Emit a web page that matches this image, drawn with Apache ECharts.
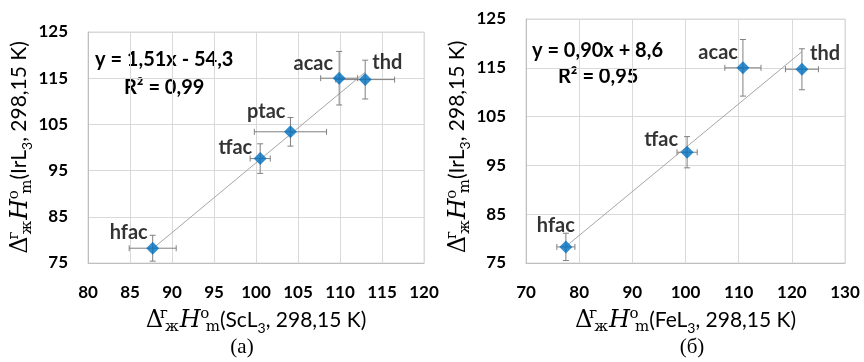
<!DOCTYPE html>
<html>
<head>
<meta charset="utf-8">
<script src="https://cdn.jsdelivr.net/npm/echarts@6/dist/echarts.min.js"></script>
<style>
  html, body { margin: 0; padding: 0; background: #fff; }
  #main { width: 864px; height: 362px; }
</style>
</head>
<body>
<div id="main"></div>
<script>
// (а) ScL3 -> IrL3
var scNames = ['hfac', 'tfac', 'ptac', 'acac', 'thd'];
var scX = [87.7, 100.5, 104.1, 109.9, 113.0];
var scY = [78.2, 97.6, 103.4, 115.0, 114.7];
var scXErr = [2.8, 1.2, 4.3, 2.2, 3.5];
var scYErr = [2.8, 3.2, 3.1, 5.8, 4.2];
var scTrend = [[87.7, 78.1], [113.0, 116.3]];
var scXTicks = [80, 120, 5];

// (б) FeL3 -> IrL3
var feNames = ['hfac', 'tfac', 'acac', 'thd'];
var feX = [77.5, 100.3, 110.8, 121.9];
var feY = [78.3, 97.7, 115.0, 114.7];
var feXErr = [1.7, 1.9, 3.4, 3.1];
var feYErr = [2.8, 3.2, 5.8, 4.2];
var feTrend = [[77.5, 78.4], [121.9, 118.3]];
var feXTicks = [70, 130, 10];

var yTicks = [75, 125, 10];

// где ставить подписи точек
var scLabelPos = {
    hfac: ['right', [-5, -16]],
    tfac: ['right', [-8, -11]],
    ptac: ['right', [-5, -20]],
    acac: ['right', [-6, -15]],
    thd:  ['left',  [7, -17]]
};
var feLabelPos = {
    hfac: ['right', [9, -21]],
    tfac: ['right', [-9, -13]],
    acac: ['right', [-5, -15]],
    thd:  ['left',  [8, -16]]
};

var myChart = echarts.init(document.getElementById('main'));

var serif = 'DejaVu Serif';
var sans = 'Lato';
var nameRich = {
    d:   { fontFamily: serif, fontSize: 24, lineHeight: 28, color: '#000' },
    h:   { fontFamily: serif, fontSize: 24, lineHeight: 28, fontStyle: 'italic', color: '#000', padding: [0, 0, 0, 1] },
    sp1: { fontFamily: serif, fontSize: 15, lineHeight: 14, verticalAlign: 'top', width: 0, color: '#000', padding: [0, 0, 0, 1] },
    sb1: { fontFamily: serif, fontSize: 15, lineHeight: 14, verticalAlign: 'bottom', color: '#000', padding: [0, 0, 0, 1] },
    sp2: { fontFamily: serif, fontSize: 15, lineHeight: 14, verticalAlign: 'top', width: 0, color: '#000', padding: [0, 0, 0, 4] },
    sb2: { fontFamily: serif, fontSize: 15, lineHeight: 14, verticalAlign: 'bottom', color: '#000', padding: [0, 0, 0, 1] },
    n:   { fontFamily: sans, fontSize: 21, lineHeight: 28, color: '#000', padding: [0, 0, 2, 0] },
    s3:  { fontFamily: sans, fontSize: 14, lineHeight: 14, verticalAlign: 'bottom', color: '#000' }
};
function axisName(compound) {
    return '{d|Δ}{sp1|г}{sb1|ж}{h|H}{sp2|o}{sb2|m}{n|(' + compound + '}{s3|3}{n|, 298,15 K)}';
}

function errRender(params, api) {
    var x = api.value(0), y = api.value(1), dx = api.value(2), dy = api.value(3);
    var l = api.coord([x - dx, y]), r = api.coord([x + dx, y]);
    var t = api.coord([x, y + dy]), b = api.coord([x, y - dy]);
    var cap = 3;
    var st = { stroke: '#808080', lineWidth: 1 };
    return {
        type: 'group',
        children: [
            { type: 'line', shape: { x1: l[0], y1: l[1], x2: r[0], y2: r[1] }, style: st },
            { type: 'line', shape: { x1: l[0], y1: l[1] - cap, x2: l[0], y2: l[1] + cap }, style: st },
            { type: 'line', shape: { x1: r[0], y1: r[1] - cap, x2: r[0], y2: r[1] + cap }, style: st },
            { type: 'line', shape: { x1: t[0], y1: t[1], x2: b[0], y2: b[1] }, style: st },
            { type: 'line', shape: { x1: t[0] - cap, y1: t[1], x2: t[0] + cap, y2: t[1] }, style: st },
            { type: 'line', shape: { x1: b[0] - cap, y1: b[1], x2: b[0] + cap, y2: b[1] }, style: st }
        ]
    };
}

function pointData(names, xs, ys, pos) {
    return names.map(function (n, i) {
        return {
            name: n,
            value: [xs[i], ys[i]],
            label: { align: pos[n][0], offset: pos[n][1] }
        };
    });
}

function makeX(idx, ticks, compound) {
    return {
        gridIndex: idx, type: 'value', min: ticks[0], max: ticks[1], interval: ticks[2],
        axisLine: { show: true, lineStyle: { color: '#bfbfbf' } },
        axisTick: { show: false },
        splitLine: { show: true, lineStyle: { color: '#d9d9d9' } },
        axisLabel: { margin: 21, color: '#000', fontFamily: sans, fontWeight: 'bold', fontSize: 17 },
        name: axisName(compound), nameLocation: 'middle', nameGap: 44,
        nameTextStyle: { rich: nameRich }
    };
}
function makeY(idx, gap, pad) {
    return {
        gridIndex: idx, type: 'value', min: yTicks[0], max: yTicks[1], interval: yTicks[2],
        axisLine: { show: true, lineStyle: { color: '#bfbfbf' } },
        axisTick: { show: false },
        splitLine: { show: true, lineStyle: { color: '#d9d9d9' } },
        axisLabel: { margin: 20, color: '#000', fontFamily: sans, fontWeight: 'bold', fontSize: 17 },
        name: axisName('IrL'), nameLocation: 'middle', nameRotate: 90, nameGap: gap,
        nameTextStyle: { rich: nameRich, padding: pad }
    };
}

var pointLabel = {
    show: true, position: 'inside', formatter: '{b}',
    color: '#000', fontFamily: sans, fontWeight: 'bold', fontSize: 20
};
var eqFont = 'bold 20px Lato';

option = {
    backgroundColor: '#fff',
    animation: false,
    grid: [
        { left: 88, top: 32, width: 336, height: 231, show: true, borderColor: '#d9d9d9', borderWidth: 1 },
        { left: 526, top: 19, width: 319, height: 244, show: true, borderColor: '#d9d9d9', borderWidth: 1 }
    ],
    xAxis: [makeX(0, scXTicks, 'ScL'), makeX(1, feXTicks, 'FeL')],
    yAxis: [makeY(0, 50, [0, 0, 0, 0]), makeY(1, 52, [0, 12, 0, 0])],
    graphic: [
        { type: 'text', left: 95, top: 50, style: { text: 'y = 1,51x - 54,3', fill: '#000', font: eqFont } },
        { type: 'text', left: 124, top: 78, style: { text: 'R² = 0,99', fill: '#000', font: eqFont } },
        { type: 'text', left: 532, top: 41, style: { text: 'y = 0,90x + 8,6', fill: '#000', font: eqFont } },
        { type: 'text', left: 558, top: 67, style: { text: 'R² = 0,95', fill: '#000', font: eqFont } },
        { type: 'text', x: 242, y: 347, style: { text: '(а)', fill: '#000', font: '21px "Liberation Serif"', align: 'center', verticalAlign: 'middle' } },
        { type: 'text', x: 692, y: 347, style: { text: '(б)', fill: '#000', font: '21px "Liberation Serif"', align: 'center', verticalAlign: 'middle' } }
    ],
    series: [
        {
            type: 'line', xAxisIndex: 0, yAxisIndex: 0, data: scTrend, symbol: 'none',
            lineStyle: { color: '#a6a6a6', width: 1 }, z: 1, silent: true
        },
        {
            type: 'custom', xAxisIndex: 0, yAxisIndex: 0, renderItem: errRender, z: 2,
            data: scX.map(function (x, i) { return [x, scY[i], scXErr[i], scYErr[i]]; })
        },
        {
            type: 'scatter', xAxisIndex: 0, yAxisIndex: 0, symbol: 'diamond', symbolSize: 13, z: 3,
            itemStyle: { color: '#0070c0' }, label: pointLabel,
            data: pointData(scNames, scX, scY, scLabelPos)
        },
        {
            type: 'line', xAxisIndex: 1, yAxisIndex: 1, data: feTrend, symbol: 'none',
            lineStyle: { color: '#a6a6a6', width: 1 }, z: 1, silent: true
        },
        {
            type: 'custom', xAxisIndex: 1, yAxisIndex: 1, renderItem: errRender, z: 2,
            data: feX.map(function (x, i) { return [x, feY[i], feXErr[i], feYErr[i]]; })
        },
        {
            type: 'scatter', xAxisIndex: 1, yAxisIndex: 1, symbol: 'diamond', symbolSize: 13, z: 3,
            itemStyle: { color: '#0070c0' }, label: pointLabel,
            data: pointData(feNames, feX, feY, feLabelPos)
        }
    ]
};

myChart.setOption(option);
</script>
</body>
</html>
